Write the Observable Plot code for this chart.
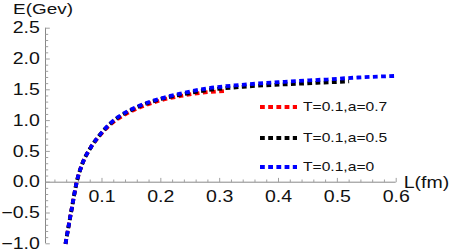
<!DOCTYPE html>
<html><head><meta charset="utf-8">
<script src="https://cdn.jsdelivr.net/npm/d3@7"></script>
<script src="https://cdn.jsdelivr.net/npm/@observablehq/plot@0.6"></script>
<style>
body{margin:0;background:#fff;}
#chart{position:relative;width:450px;height:252px;overflow:hidden;}
.leg{position:absolute;left:260px;height:16px;display:flex;align-items:center;font-family:"Liberation Sans",Arial,sans-serif;font-size:12.8px;color:#111;white-space:nowrap;}
.leg span{display:inline-block;transform:scaleX(1.22);transform-origin:left center;margin-left:6px;}
.leg svg{display:block;}
</style></head><body><div id="chart"></div>
<script>
// ---- data ----
const seriesNames = ["T=0.1,a=0.7", "T=0.1,a=0.5", "T=0.1,a=0"];
const seriesColors = ["#ff0000", "#000000", "#0000ff"];

const L_red = [0.038, 0.0495, 0.057, 0.0666, 0.0807, 0.0948, 0.1147, 0.1432, 0.1658, 0.2, 0.234, 0.268, 0.31];
const E_red = [-1.0, -0.38, 0.0, 0.30, 0.56, 0.74, 0.94, 1.12, 1.22, 1.33, 1.40, 1.45, 1.48];

const L_black = [0.038, 0.0495, 0.057, 0.0666, 0.0807, 0.0948, 0.1147, 0.1432, 0.1658, 0.2, 0.234, 0.2765, 0.3475, 0.438, 0.52];
const E_black = [-1.0, -0.38, 0.0, 0.30, 0.56, 0.75, 0.955, 1.14, 1.24, 1.35, 1.42, 1.49, 1.555, 1.60, 1.636];

const L_blue = [0.038, 0.0495, 0.057, 0.0666, 0.0807, 0.0948, 0.1147, 0.1432, 0.1658, 0.2, 0.234, 0.2765, 0.336, 0.41, 0.484, 0.535, 0.6];
const E_blue = [-1.0, -0.38, 0.0, 0.30, 0.56, 0.75, 0.96, 1.15, 1.25, 1.36, 1.44, 1.52, 1.58, 1.63, 1.67, 1.70, 1.725];

const xTickValues = [0.1, 0.2, 0.3, 0.4, 0.5, 0.6];
const xTickLabels = ["0.1", "0.2", "0.3", "0.4", "0.5", "0.6"];
const yTickValues = [-1, -0.5, 0, 0.5, 1, 1.5, 2, 2.5];
const yTickLabels = ["\u22121.0", "\u22120.5", "0.0", "0.5", "1.0", "1.5", "2.0", "2.5"];
const xLabel = "L(fm)";
const yLabel = "E(Gev)";
const xDomain = [0.004, 0.6];
const yDomain = [-1, 2.5];

// ---- build ----
const xMinor = d3.range(1, 30).map(i => +(i * 0.02).toFixed(2)).filter(v => Math.abs(v * 10 - Math.round(v * 10)) > 1e-6);
const yMinor = d3.range(-10, 26).map(i => +(i * 0.1).toFixed(1)).filter(v => Math.abs(v * 2 - Math.round(v * 2)) > 1e-6);

const mk = (Ls, Es, name) => Ls.map((L, i) => ({series: name, L, E: Es[i]}));
const red = mk(L_red, E_red, seriesNames[0]);
const black = mk(L_black, E_black, seriesNames[1]);
const blue = mk(L_blue, E_blue, seriesNames[2]);

const tickUp = len => ({draw(ctx) { ctx.moveTo(0, 0); ctx.lineTo(0, -len); }});
const tickRight = len => ({draw(ctx) { ctx.moveTo(0, 0); ctx.lineTo(len, 0); }});

const font = "Liberation Sans, Arial, sans-serif";
const axisCol = "#888";
const tickCol = "#a0a0a0";
const txtCol = "#111";
const dash = "4.8,3.4";
const sw = 3.8;
const lineStyle = {x: "L", y: "E", strokeWidth: sw, strokeDasharray: dash, strokeLinecap: "butt", strokeLinejoin: "miter", curve: "monotone-x"};

const plot = Plot.plot({
  width: 450,
  height: 252,
  marginLeft: 45,
  marginRight: 54.3,
  marginTop: 27.7,
  marginBottom: 8.7,
  x: {domain: xDomain, axis: null},
  y: {domain: yDomain, axis: null},
  style: {background: "#fff"},
  marks: [
    Plot.ruleY([0], {stroke: axisCol, strokeWidth: 1}),
    Plot.ruleX([xDomain[0]], {stroke: axisCol, strokeWidth: 1}),
    Plot.dot(xTickValues, {x: d => d, y: () => 0, symbol: tickUp(4.3), stroke: tickCol, strokeWidth: 1, fill: "none"}),
    Plot.dot(xMinor, {x: d => d, y: () => 0, symbol: tickUp(2.7), stroke: tickCol, strokeWidth: 1, fill: "none"}),
    Plot.dot(yTickValues, {x: () => xDomain[0], y: d => d, symbol: tickRight(4.3), stroke: tickCol, strokeWidth: 1, fill: "none"}),
    Plot.dot(yMinor, {x: () => xDomain[0], y: d => d, symbol: tickRight(2.7), stroke: tickCol, strokeWidth: 1, fill: "none"}),
    Plot.line(red, {...lineStyle, stroke: seriesColors[0], strokeDashoffset: 0}),
    Plot.line(black, {...lineStyle, stroke: seriesColors[1], strokeDashoffset: 0.8}),
    Plot.line(blue, {...lineStyle, stroke: seriesColors[2], strokeDashoffset: 0}),
    Plot.text(xTickValues, {x: d => d, y: () => 0, text: (d, i) => xTickLabels[i], dy: 14.5, fontSize: 16, fontFamily: font, fill: txtCol}),
    Plot.text(yTickValues, {x: () => xDomain[0], y: d => d, text: (d, i) => yTickLabels[i], textAnchor: "end", dx: -5.7, fontSize: 16, fontFamily: font, fill: txtCol}),
    Plot.text([xLabel], {x: () => xDomain[1], y: () => 0, text: d => d, textAnchor: "start", dx: 7.5, dy: 0.5, fontSize: 16, fontFamily: font, fill: txtCol}),
    Plot.text([yLabel], {x: () => xDomain[0], y: () => yDomain[1], text: d => d, textAnchor: "middle", dx: -2.5, dy: -19.5, fontSize: 15.5, fontFamily: font, fill: txtCol})
  ]
});

const chart = document.getElementById("chart");
chart.appendChild(plot);

// horizontal stretch of the glyphs as in the reference
plot.querySelectorAll("text").forEach(t => {
  const w = t.getComputedTextLength();
  if (w > 0) {
    t.setAttribute("textLength", (w * 1.22).toFixed(2));
    t.setAttribute("lengthAdjust", "spacingAndGlyphs");
  }
});

// legend
const legendTops = [106.7, 137.7, 166.7];
seriesNames.forEach((name, i) => {
  const row = document.createElement("div");
  row.className = "leg";
  row.style.top = (legendTops[i] - 8) + "px";
  row.innerHTML = `<svg width="37" height="8"><line x1="0" y1="4" x2="37" y2="4" stroke="${seriesColors[i]}" stroke-width="${sw}" stroke-dasharray="${dash}"/></svg><span>${name}</span>`;
  chart.appendChild(row);
});
</script>
</body></html>
